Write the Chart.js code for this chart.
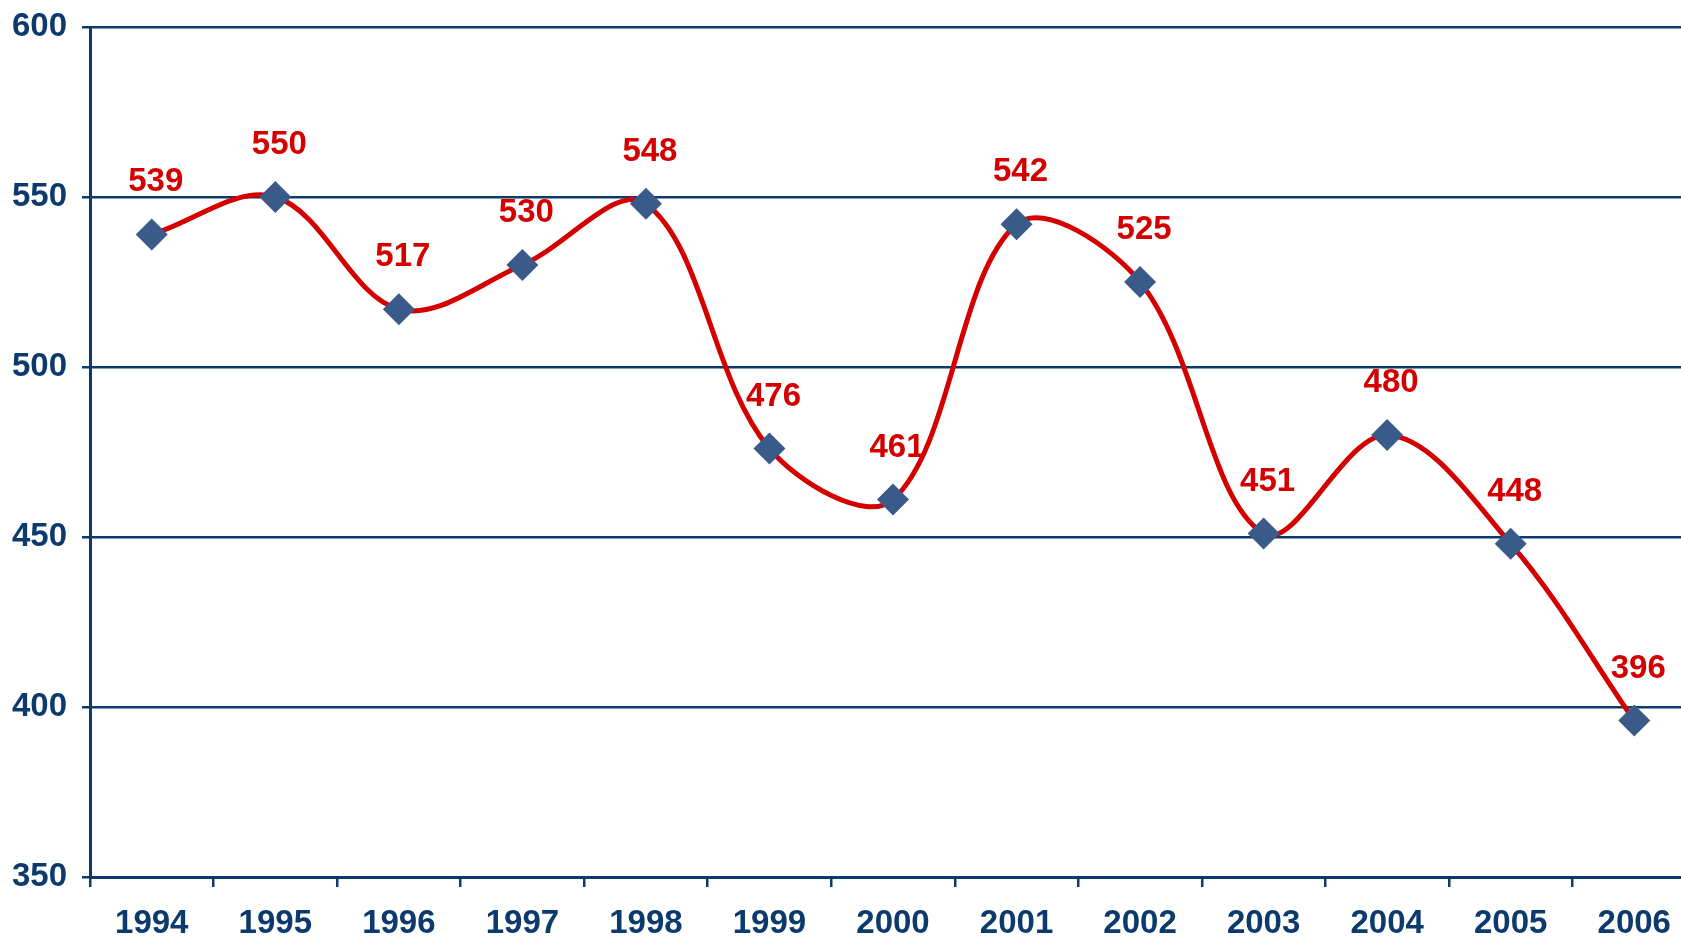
<!DOCTYPE html>
<html>
<head>
<meta charset="utf-8">
<script src="https://cdn.jsdelivr.net/npm/chart.js@4"></script>
<style>
  html, body { margin: 0; padding: 0; background: #fff; overflow: hidden; }
  #wrap { width: 1681px; height: 940px; overflow: hidden; }
</style>
</head>
<body>
<div id="wrap"><canvas id="myChart" width="1712" height="940"></canvas></div>
<script>
// chart data
const years = ['1994', '1995', '1996', '1997', '1998', '1999', '2000', '2001', '2002', '2003', '2004', '2005', '2006'];
const values = [539, 550, 517, 530, 548, 476, 461, 542, 525, 451, 480, 448, 396];
const yTicks = [350, 400, 450, 500, 550, 600];

const navy = '#0d3a6c';
const red = '#d40000';
const marker = '#3a5a8a';
const font = '"Liberation Sans", Arial, sans-serif';

// value labels drawn above each point
const valueLabels = {
  id: 'valueLabels',
  afterDatasetsDraw(chart) {
    const ctx = chart.ctx;
    const meta = chart.getDatasetMeta(0);
    ctx.save();
    ctx.font = 'bold 33px ' + font;
    ctx.fillStyle = red;
    ctx.textAlign = 'center';
    ctx.textBaseline = 'middle';
    meta.data.forEach((pt, i) => {
      ctx.fillText(values[i], pt.x + 4, pt.y - 52);
    });
    ctx.restore();
  }
};

new Chart(document.getElementById('myChart'), {
  type: 'line',
  data: {
    labels: years,
    datasets: [{
      data: values,
      borderColor: red,
      borderWidth: 5,
      tension: 0.35,
      pointStyle: 'rectRot',
      pointRadius: 16,
      pointHoverRadius: 16,
      pointBackgroundColor: marker,
      pointBorderColor: marker,
      pointBorderWidth: 0
    }]
  },
  options: {
    responsive: false,
    animation: false,
    events: [],
    layout: { padding: { top: 27, right: 6, left: 0, bottom: 0 } },
    plugins: {
      legend: { display: false },
      tooltip: { enabled: false }
    },
    scales: {
      x: {
        offset: true,
        afterFit: (s) => { s.height = 63; },
        border: { display: true, color: navy, width: 3 },
        grid: { offset: true, drawOnChartArea: false, drawTicks: true, tickLength: 10, color: navy, lineWidth: 2.5 },
        ticks: { color: navy, padding: 17, font: { family: font, size: 33, weight: 'bold' }, maxRotation: 0 }
      },
      y: {
        min: yTicks[0],
        max: yTicks[yTicks.length - 1],
        afterFit: (s) => { s.width = 90; s.paddingTop = 0; s.paddingBottom = 0; },
        afterBuildTicks: (s) => { s.ticks = yTicks.map(v => ({ value: v })); },
        border: { display: true, color: navy, width: 3 },
        grid: { color: navy, lineWidth: 2.5, tickLength: 8 },
        ticks: { color: navy, padding: 15, font: { family: font, size: 33, weight: 'bold' } }
      }
    }
  },
  plugins: [valueLabels]
});
</script>
</body>
</html>
